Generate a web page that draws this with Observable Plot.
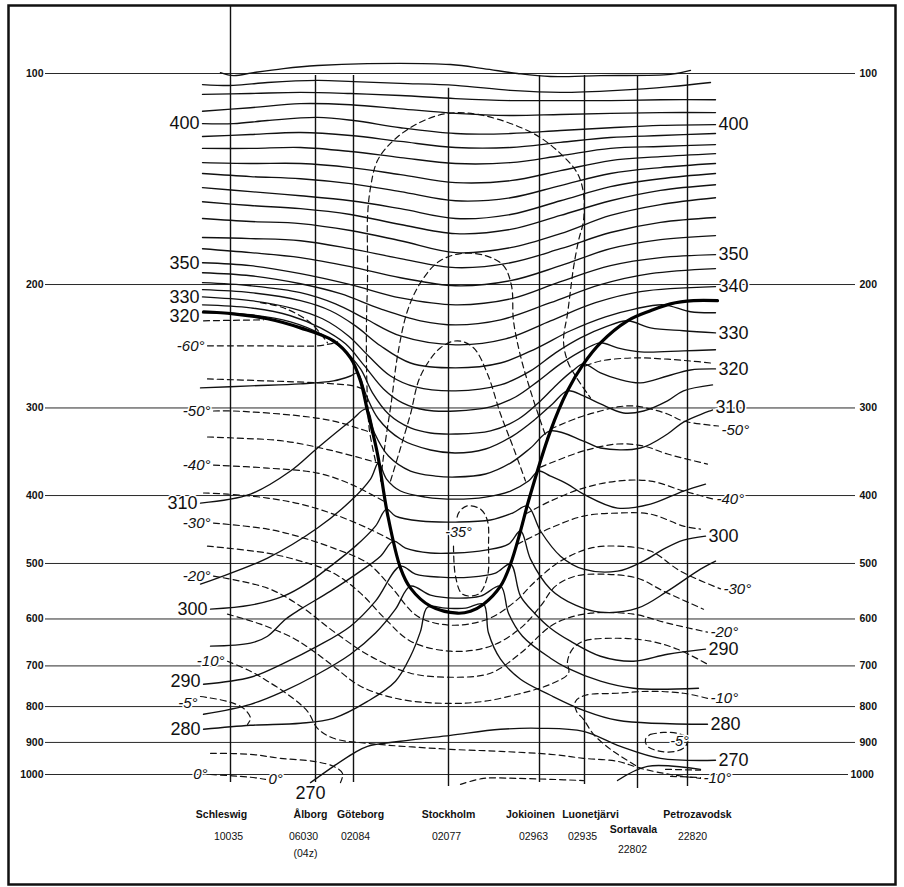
<!DOCTYPE html>
<html><head><meta charset="utf-8">
<script src="https://cdn.jsdelivr.net/npm/d3@7"></script>
<script src="https://cdn.jsdelivr.net/npm/@observablehq/plot@0.6"></script>
<style>body{margin:0;background:#fff} svg{display:block}</style>
</head><body><div id="chart"></div>
<script>
// x: distance along the section (arbitrary units), y: pressure (hPa)
const pressureLevels = [100,200,300,400,500,600,700,800,900,1000];

const stations = [
  {name:"Schleswig", code:"10035", x:23.0, top:80, bottom:1027, nameX:22.1, codeX:22.8},
  {name:"Ålborg", code:"06030", extra:"(04z)", x:31.5, top:100.7, bottom:1027, nameX:31.0, codeX:30.3},
  {name:"Göteborg", code:"02084", x:35.3, top:100.7, bottom:1027, nameX:36.0, codeX:35.5},
  {name:"Stockholm", code:"02077", x:44.8, top:105.0, bottom:1040, nameX:44.8, codeX:44.6},
  {name:"Jokioinen", code:"02963", x:53.9, top:100.7, bottom:1027, nameX:53.0, codeX:53.3},
  {name:"Luonetjärvi", code:"02935", x:58.4, top:100.7, bottom:1033, nameX:59.0, codeX:58.2},
  {name:"Sortavala", code:"22802", x:63.7, top:100.7, bottom:1047, nameX:63.3, codeX:63.2, low:true},
  {name:"Petrozavodsk", code:"22820", x:68.7, top:100.7, bottom:1040, nameX:69.7, codeX:69.2}
];

const tropopause = [[20.3,218.7],[23.3,220.2],[26.7,223.8],[30.0,230.6],[33.3,240.6],[35.0,254.5],[36.0,274.5],[36.7,303.0],[37.7,349.0],[38.7,425.1],[40.0,507.7],[41.0,542.2],[43.0,575.3],[45.7,588.7],[47.0,584.8],[48.3,571.5],[50.0,538.6],[51.0,501.1],[52.0,449.4],[52.8,407.3],[55.0,323.5],[56.7,283.6],[58.3,259.6],[60.0,242.2],[62.7,225.3],[65.0,218.0],[67.0,213.1],[69.3,210.9],[71.7,210.9]];

// isentropes (K), solid lines
const isentropesStrat = [
  {theta:420, pts:[[22.0,99.7],[23.3,100.7],[25.3,99.7],[28.3,98.4],[31.7,97.4],[36.7,96.8],[45.0,97.1],[48.3,98.4],[51.7,100],[55.0,101.0],[60.0,100.7],[67.0,100.3],[69.0,99.0]]},
  {theta:415, pts:[[20.2,103.7],[23.3,104.0],[26.7,103.0],[31.7,102.3],[35.3,102.7],[40.0,103.3],[45.5,104.0],[51.0,105.7],[56.0,106.4],[61.7,105.7],[67.0,104.4],[71.0,103.0]]},
  {theta:410, pts:[[20.2,107.1],[25.0,106.8],[30.0,106.4],[35.0,106.8],[40.0,107.5],[45.5,108.6],[51.0,109.3],[56.0,109.3],[61.0,109.3],[66.0,109.0],[71.5,109.0]]},
  {theta:405, pts:[[20.2,113.2],[25.0,111.9],[30.0,110.4],[35.0,110.8],[40.0,112.3],[45.5,114.0],[51.0,114.8],[56.0,114.4],[61.0,114.0],[66.0,113.7],[71.5,113.7]]},
  {theta:400, pts:[[20.2,117.9],[23.3,117.9],[26.7,116.7],[31.7,115.5],[35.3,116.7],[40.0,119.5],[45.5,121.8],[51.0,121.8],[56.0,120.6],[61.0,119.5],[66.0,118.6],[71.5,118.3]]},
  {theta:395, pts:[[20.2,123.0],[25.0,122.2],[30.0,121.4],[35.0,122.6],[40.0,125.0],[45.5,127.5],[51.0,127.5],[56.0,125.4],[61.0,123.4],[66.0,122.6],[71.5,121.8]]},
  {theta:390, pts:[[20.2,127.9],[25.0,127.9],[30.0,127.5],[35.0,129.2],[40.0,131.8],[45.5,134.4],[51.0,134.0],[56.0,131.0],[61.0,127.9],[66.0,127.1],[71.5,126.3]]},
  {theta:385, pts:[[20.2,134.0],[25.0,134.4],[30.0,134.4],[35.0,136.2],[40.0,139.4],[45.5,143.1],[51.0,142.2],[56.0,137.6],[61.0,133.1],[66.0,131.4],[71.5,130.1]]},
  {theta:380, pts:[[20.2,138.9],[25.0,140.3],[30.0,141.3],[35.0,143.6],[40.0,147.4],[45.5,151.9],[51.0,150.4],[56.0,144.5],[61.0,138.9],[66.0,136.2],[71.5,134.4]]},
  {theta:375, pts:[[20.2,145.5],[25.0,147.4],[30.0,149.4],[35.0,151.9],[40.0,155.9],[45.5,161.0],[51.0,158.9],[56.0,151.9],[61.0,145.0],[66.0,141.3],[71.5,138.9]]},
  {theta:370, pts:[[20.2,152.4],[25.0,154.3],[30.0,155.9],[35.0,158.9],[40.0,164.2],[45.5,169.2],[51.0,166.9],[56.0,159.4],[61.0,151.9],[66.0,146.8],[71.5,144.1]]},
  {theta:365, pts:[[20.2,161.0],[25.0,162.6],[30.0,163.7],[35.0,167.5],[40.0,173.2],[45.5,180.1],[51.0,177.2],[56.0,169.2],[61.0,159.4],[66.0,153.8],[71.5,150.4]]},
  {theta:360, pts:[[20.2,171.4],[25.0,172.0],[30.0,173.2],[35.0,177.8],[40.0,183.7],[45.5,189.2],[51.0,186.2],[56.0,177.8],[61.0,168.6],[66.0,163.1],[71.5,160.5]]},
  {theta:355, pts:[[20.2,177.8],[25.0,180.1],[30.0,183.1],[35.0,188.6],[40.0,195.6],[45.5,200.8],[51.0,197.5],[56.0,188.0],[61.0,177.8],[66.0,172.6],[71.5,170.3]]},
  {theta:350, pts:[[20.2,186.2],[25.0,188.0],[30.0,193.0],[35.0,200.1],[40.0,209.0],[45.5,213.8],[51.0,209.7],[56.0,198.1],[61.0,188.0],[66.0,183.1],[71.5,181.3]]},
  {theta:345, pts:[[20.2,192.4],[25.0,194.3],[30.0,199.5],[34.0,206.1],[38.0,216.6],[42.0,225.3],[45.5,228.4],[50.0,224.6],[55.0,212.3],[60.0,200.1],[65.0,193.0],[71.5,189.8]]},
  {theta:340, pts:[[20.2,198.8],[25.0,200.8],[30.0,205.4],[33.5,213.1],[36.5,223.8],[40.0,236.8],[45.5,243.8],[50.5,239.1],[55.0,225.3],[59.5,212.3],[64.0,204.7],[71.5,201.4]]}
];

const isentropesFunnel = [
  {theta:335, pts:[[20.2,203.4],[25.0,205.4],[30.0,210.9],[33.0,218.0],[35.5,229.1],[38.0,244.6],[41.0,258.8],[45.5,263.0],[50.0,258.8],[53.5,247.0],[57.0,232.8],[60.5,222.4],[63.5,216.6],[66.3,213.8],[69.0,218.7],[71.5,219.4]]},
  {theta:330, pts:[[20.2,208.3],[25.0,210.9],[29.0,215.9],[32.2,223.8],[34.8,236.8],[36.8,252.9],[39.0,270.1],[41.5,280.0],[45.5,283.6],[50.0,278.1],[53.0,265.6],[55.5,250.3],[58.0,238.3],[60.5,229.9],[62.7,225.3],[65.0,230.6],[68.3,232.8],[71.5,234.4]]},
  {theta:325, pts:[[20.2,213.8],[25.0,215.9],[29.0,221.6],[32.0,230.6],[34.5,243.0],[36.4,261.3],[38.3,281.8],[40.2,295.0],[42.5,302.0],[45.5,303.0],[49.0,299.0],[51.5,289.4],[53.8,274.5],[56.0,259.6],[58.5,247.0],[60.0,242.2],[61.7,246.2],[64.0,249.5],[68.3,248.7],[71.5,247.8]]},
  {theta:320, pts:[[20.2,219.4],[25.0,220.9],[29.0,226.1],[32.0,235.2],[34.2,247.0],[36.0,263.9],[37.2,285.5],[38.8,306.0],[41.0,320.4],[43.0,325.7],[45.5,326.8],[49.0,323.5],[51.8,311.1],[54.0,293.1],[55.8,276.3],[57.2,265.6],[58.3,259.6],[60.0,267.4],[61.7,272.7],[64.0,276.3],[66.7,270.1],[69.0,264.8],[71.5,263.9]]},
  {theta:315, pts:[[20.0,280.9],[25.0,279.0],[30.0,277.2],[33.3,274.5],[35.0,270.1],[35.7,267.4],[36.6,288.4],[37.8,311.1],[40.0,332.2],[43.0,344.4],[45.5,347.8],[48.5,343.3],[51.2,329.0],[53.5,311.1],[55.2,296.1],[56.7,283.6],[58.3,288.4],[60.0,296.1],[62.3,305.0],[64.3,303.0],[66.7,293.1],[68.3,283.6],[71.2,278.1]]},
  {theta:310, pts:[[20.0,410.0],[25.0,398.1],[29.0,369.1],[31.7,342.2],[35.0,313.2],[36.6,301.0],[37.4,325.7],[38.8,351.3],[41.0,369.1],[43.5,375.2],[45.5,376.4],[48.5,372.7],[51.0,359.5],[53.0,342.2],[55.0,323.5],[58.3,334.4],[60.0,342.2],[64.0,342.2],[66.7,326.8],[68.3,314.2],[71.2,302.0]]},
  {theta:305, pts:[[20.0,535.1],[21.7,524.7],[26.7,491.3],[31.7,445.1],[35.0,407.3],[37.0,378.9],[37.8,359.5],[38.6,378.9],[40.0,394.1],[42.5,402.0],[45.5,404.7],[48.5,402.0],[51.0,394.1],[52.8,381.4],[53.8,369.1],[55.0,375.2],[56.7,385.2],[58.3,398.1],[61.7,416.8],[65.0,411.4],[68.3,394.1],[70.5,385.2]]},
  {theta:300, pts:[[21.0,581.0],[25.0,573.4],[28.3,556.7],[30.7,533.4],[33.0,504.4],[35.5,472.3],[37.5,442.2],[38.6,418.2],[39.5,427.9],[42.0,434.9],[45.5,436.4],[49.0,433.5],[51.2,423.7],[52.7,414.1],[54.0,449.4],[56.0,488.1],[58.3,509.4],[61.7,512.8],[64.3,496.1],[66.3,477.0],[68.3,463.1],[70.5,457.0]]},
  {theta:295, pts:[[21.0,656.1],[25.0,649.6],[26.7,634.9],[28.5,600.4],[30.0,581.0],[33.0,547.6],[36.0,512.8],[38.0,488.1],[39.3,464.6],[40.5,475.4],[43.0,483.1],[45.5,483.1],[48.5,478.5],[50.8,469.2],[52.0,449.4],[53.0,492.9],[55.0,544.0],[57.5,573.4],[60.0,586.8],[63.7,579.1],[66.7,547.6],[70.0,509.4],[71.5,496.1]]},
  {theta:290, pts:[[20.3,743.4],[25.0,726.5],[28.3,694.0],[31.7,656.1],[35.0,614.4],[37.5,565.9],[40.0,504.4],[41.5,517.8],[44.0,523.0],[47.0,523.0],[49.5,516.1],[51.0,501.1],[52.0,556.7],[53.5,590.6],[55.0,618.4],[57.0,645.4],[60.0,678.1],[63.3,689.4],[66.7,673.6],[70.5,662.5]]},
  {theta:285, pts:[[20.3,820.5],[25.0,794.0],[28.3,760.8],[31.7,719.4],[35.0,673.6],[37.5,628.4],[39.5,581.0],[41.0,538.6],[43.0,554.8],[45.5,560.3],[48.0,556.7],[50.0,538.6],[50.8,588.7],[52.2,634.9],[55.0,682.5],[56.7,705.3],[60.0,736.0],[63.3,753.3],[69.8,753.3]]},
  {theta:280, pts:[[20.3,862.0],[25.0,850.7],[30.0,845.1],[33.3,831.4],[36.7,786.6],[39.5,736.0],[41.0,678.1],[42.0,624.9],[42.7,577.2],[44.5,579.1],[46.5,579.1],[48.3,571.5],[48.8,628.4],[50.0,684.8],[52.0,731.4],[55.0,770.8],[58.3,809.9],[61.7,836.8],[70.7,847.9]]}
];

const isentropesLow = [
  {theta:270, pts:[[31.0,1027],[33.3,973.5],[35.3,932.8],[36.7,911.6],[40.0,896.6],[45.0,879.2],[50.0,862.0],[54.0,859.2],[58.3,867.9],[62.0,911.6],[66.0,948.2],[71.5,954.4]]},
  {theta:265, pts:[[61.7,1020],[64.7,973.5],[70.0,983.1]]}
];

const thetaLabelsLeft = [400,350,330,320,310,300,290,280];
const thetaLabelsRight = [400,350,340,330,320,310,300,290,280,270];

// isotherms (°C), dashed lines; label: which end carries the label
const isotherms = [
  {t:-65, pts:[[20.3,225.3],[26.3,224.6]]},
  {t:-65, pts:[[26.0,212.3],[28.3,215.9],[31.0,226.8],[32.7,242.2]]},
  {t:-60, label:"start", pts:[[20.7,244.6],[26.0,244.6],[31.7,244.6],[33.0,243.0],[33.7,241.4]]},
  {t:-55, pts:[[20.7,272.7],[26.7,274.5],[31.7,276.3],[35.3,279.0],[36.2,281.8]]},
  {t:-55, pts:[[58.5,261.3],[60.0,257.1],[63.3,254.5],[66.3,255.4],[69.0,257.1],[71.0,258.8]]},
  {t:-50, label:"start", pts:[[21.3,303.0],[23.3,303.0],[30.0,308.0],[33.3,313.2],[36.0,321.5],[37.2,325.7]]},
  {t:-50, label:"end", pts:[[55.0,321.5],[57.7,310.0],[60.0,303.0],[61.7,299.0],[63.3,298.0],[65.0,301.0],[66.7,306.0],[68.3,313.2],[71.8,318.3]]},
  {t:-45, pts:[[20.7,330.0],[23.3,331.1],[28.3,334.4],[33.3,345.5],[37.8,359.5]]},
  {t:-45, pts:[[54.0,364.3],[55.0,359.5],[58.3,345.5],[61.7,337.7],[64.3,339.9],[66.7,349.0],[70.7,360.7]]},
  {t:-40, label:"start", pts:[[21.3,361.9],[26.7,365.5],[31.7,371.5],[35.0,385.2],[38.3,407.3]]},
  {t:-40, label:"end", pts:[[52.5,425.1],[55.0,407.3],[58.3,390.3],[61.7,381.4],[65.0,381.4],[68.3,394.1],[71.3,404.7]]},
  {t:-35, pts:[[20.3,396.7],[22.7,398.1],[26.7,403.3],[30.0,411.4],[33.3,425.1],[36.7,445.1],[39.3,464.6]]},
  {t:-35, pts:[[51.7,469.2],[55.0,445.1],[58.3,427.9],[61.7,423.7],[65.0,425.1],[68.3,442.2],[70.0,446.6]]},
  {t:-30, label:"both", pts:[[21.3,437.8],[26.7,446.6],[30.0,458.5],[33.3,475.4],[36.7,499.4],[39.0,538.6],[41.7,594.5],[45.0,612.3],[48.7,600.4],[51.5,565.9],[53.5,529.9],[56.0,496.1],[59.0,475.4],[61.7,472.3],[65.0,480.0],[68.0,512.8],[72.0,543.5]]},
  {t:-25, pts:[[20.7,472.3],[26.7,483.3],[30.0,496.1],[33.3,516.1],[36.0,551.2],[38.5,600.4],[41.0,645.4],[45.0,667.0],[49.0,656.1],[52.0,618.4],[54.0,575.3],[55.5,538.6],[57.5,521.2],[60.0,517.8],[63.7,524.7],[66.3,547.6],[70.3,581.0]]},
  {t:-20, label:"both", pts:[[21.3,521.2],[26.7,542.2],[30.0,575.3],[33.3,624.9],[37.0,678.1],[41.0,717.0],[45.0,726.5],[49.0,717.0],[52.0,671.4],[55.0,614.4],[56.7,598.5],[59.0,588.7],[63.3,590.6],[66.7,608.3],[70.7,626.5]]},
  {t:-15, pts:[[22.7,590.6],[26.0,610.3],[29.3,639.2],[31.3,667.0],[33.3,700.7],[36.0,748.3],[40.0,781.2],[45.0,791.8],[48.3,786.6],[51.7,768.3],[55.0,743.4],[56.8,717.0],[56.7,689.4],[57.2,662.6],[58.3,645.4],[61.7,639.2],[65.0,645.4],[67.7,662.6],[70.7,696.1]]},
  {t:-10, label:"both", pts:[[22.7,689.4],[25.0,712.3],[26.7,736.0],[28.7,768.3],[30.7,812.6],[31.7,859.2],[33.3,887.9],[36.7,902.6],[45.0,920.6],[50.0,926.7],[55.0,935.8],[58.3,948.2],[61.7,957.6],[64.0,979.9],[67.0,1000],[70.0,1013]]},
  {t:-10, label:"start", pts:[[70.7,778.6],[68.3,765.8],[65.0,760.8],[61.7,765.8],[58.5,770.8],[57.5,786.6],[57.6,812.6],[58.3,834.1],[59.3,876.3],[61.0,920.6],[62.5,951.3],[64.0,979.9]]},
  {t:-10, pts:[[66.5,983.0],[70.0,986.0]]},
  {t:-10, pts:[[67.0,1006],[70.0,1010]]},
  {t:-5, label:"start", pts:[[20.0,774.0],[22.7,786.6],[24.3,804.6],[25.0,831.4],[24.7,847.9]]},
  {t:-5, pts:[[65.0,876.3],[66.3,870.8],[67.7,873.6],[68.7,887.9],[68.5,911.6],[67.5,926.7],[66.0,926.7],[64.7,911.6],[64.5,890.8],[65.0,876.3]]},
  {t:0, label:"both", pts:[[21.0,1000],[25.0,1009],[26.5,1016]]},
  {t:-2, pts:[[21.0,932.8],[25.0,935.8],[28.0,948.2],[31.3,957.6],[33.3,973.5],[34.2,996.2],[34.0,1027]]},
  {t:-2, pts:[[46.0,1033],[48.3,1013],[51.7,1013],[55.0,1016],[58.3,1020]]},
  // stratospheric isotherms inside / above the funnel
  {t:-45, pts:[[37.5,357.1],[36.9,323.5],[36.7,293.1],[36.6,259.6],[36.6,225.3],[36.7,197.5],[36.7,180.7],[36.7,160.5],[37.0,145.5],[37.7,133.1],[39.3,124.6],[41.7,117.9],[44.7,114.0],[48.3,114.8],[53.3,121.8],[56.0,130.1],[57.7,138.9],[58.3,148.4],[58.3,162.1],[57.8,173.2],[57.3,189.2],[57.0,204.0],[56.7,220.2],[56.3,240.6],[56.7,257.1],[57.5,270.1],[59.0,290.3]]},
  {t:-40, pts:[[38.0,381.4],[38.5,334.4],[39.1,293.1],[39.7,252.9],[40.7,218.0],[42.0,198.8],[43.8,185.6],[46.0,180.7],[48.5,181.9],[50.3,188.0],[51.1,200.8],[51.3,225.3],[52.0,252.9],[53.0,283.6],[54.0,313.2],[54.7,334.4]]},
  {t:-35, pts:[[39.0,381.4],[40.0,342.2],[41.0,306.0],[42.0,270.1],[44.0,246.2],[45.7,240.6],[47.3,246.2],[48.7,268.3],[50.0,306.0],[51.3,342.2],[52.5,381.4]]},
  {t:-35, pts:[[45.3,472.3],[45.5,521.2],[46.2,553.0],[47.8,553.0],[48.7,521.2],[48.8,472.3],[48.7,434.9],[48.0,418.2],[46.6,414.1],[45.8,423.7],[45.6,434.9]]}
];

const freeLabels = [
  {text:"-35°", x:45.8, p:451},
  {text:"-5°", x:67.9, p:896}
];

// small vertical nudges (px) for crowded labels
const labelNudge = {"L320": 4, "L290": -3, "L-5°": 7, "R310": -3, "R-50°": 4};

// ---------- build
const toRows = (groups, key) => groups.flatMap((g, i) => g.pts.map(([x, p]) => ({id: key + i, x, p})));
const solidRows = toRows([...isentropesStrat, ...isentropesFunnel, ...isentropesLow], "s");
const dashRows = toRows(isotherms, "d");
const tropRows = tropopause.map(([x, p]) => ({x, p}));

const allTheta = [...isentropesStrat, ...isentropesFunnel, ...isentropesLow];
const first = d => d.pts[0], last = d => d.pts[d.pts.length - 1];
const lblLeft = allTheta.filter(d => thetaLabelsLeft.includes(d.theta)).map(d => ({text: String(d.theta), side: "L", x: first(d)[0], p: first(d)[1]}));
const lblRight = allTheta.filter(d => thetaLabelsRight.includes(d.theta)).map(d => ({text: String(d.theta), side: "R", x: last(d)[0], p: last(d)[1]}));
const lbl270 = allTheta.filter(d => d.theta === 270).map(d => ({text: "270", side: "B", x: first(d)[0], p: first(d)[1]}));
const tStr = t => `${t}°`;
const isoStart = isotherms.filter(d => d.label === "start" || d.label === "both").map(d => ({text: tStr(d.t), x: first(d)[0], p: first(d)[1]}));
const isoEnd = isotherms.filter(d => d.label === "end" || d.label === "both").map(d => ({text: tStr(d.t), side: "R", x: last(d)[0], p: last(d)[1]}));
const isoStartL = isoStart.filter(d => d.x < 40).map(d => ({...d, side: "L"}));
const isoStartR = isoStart.filter(d => d.x >= 40).map(d => ({...d, side: "R"}));

const INK = "#111";
const FONT = "Liberation Sans, Arial, sans-serif";
const halo = {stroke: "white", strokeWidth: 3};

// one text mark per nudge value, so each label keeps its own offset
function labelMarks(data, opts, baseDy = 0) {
  const groups = d3.group(data, d => labelNudge[d.side + d.text] || 0);
  return Array.from(groups, ([n, rows]) => Plot.text(rows, {x: "x", y: "p", text: "text", ...opts, dy: baseDy + n}));
}

const chart = Plot.plot({
  width: 904, height: 887,
  marginTop: 0, marginRight: 0, marginBottom: 0, marginLeft: 0,
  style: {background: "white", fontFamily: FONT, color: INK},
  x: {domain: [0, 90.4], range: [0, 904], axis: null},
  y: {type: "log", domain: [100, 1000], range: [73, 774], axis: null},
  marks: [
    Plot.frame({insetLeft: 8, insetTop: 5, insetRight: 9, insetBottom: 3, stroke: INK, strokeWidth: 2.5}),
    // pressure levels
    Plot.ruleY(pressureLevels, {y: d => d, x1: 4.5, x2: d => d === 1000 ? 84.8 : 85.5, stroke: INK, strokeWidth: 0.9}),
    Plot.text(pressureLevels, {x: 4.3, y: d => d, text: d => String(d), textAnchor: "end", fontSize: 10.5, fontWeight: "bold", fill: INK}),
    Plot.text(pressureLevels, {x: d => d === 1000 ? 85.0 : 85.9, y: d => d, text: d => String(d), textAnchor: "start", fontSize: 10.5, fontWeight: "bold", fill: INK}),
    // stations
    Plot.ruleX(stations, {x: "x", y1: "top", y2: "bottom", stroke: INK, strokeWidth: 1.4}),
    Plot.text(stations.filter(d => !d.low), {x: "nameX", y: () => 1000, text: "name", fontSize: 10.5, fontWeight: "bold", fill: INK, dy: 40}),
    Plot.text(stations.filter(d => !d.low), {x: "codeX", y: () => 1000, text: "code", fontSize: 10.5, fill: INK, dy: 62}),
    Plot.text(stations.filter(d => d.low), {x: "nameX", y: () => 1000, text: "name", fontSize: 10.5, fontWeight: "bold", fill: INK, dy: 55}),
    Plot.text(stations.filter(d => d.low), {x: "codeX", y: () => 1000, text: "code", fontSize: 10.5, fill: INK, dy: 75}),
    Plot.text(stations.filter(d => d.extra), {x: "codeX", y: () => 1000, text: "extra", fontSize: 10.5, fill: INK, dx: 2, dy: 79}),
    // isotherms
    Plot.line(dashRows, {x: "x", y: "p", z: "id", curve: "catmull-rom", stroke: INK, strokeWidth: 1.2, strokeDasharray: "6,4"}),
    // isentropes
    Plot.line(solidRows, {x: "x", y: "p", z: "id", curve: "catmull-rom", stroke: INK, strokeWidth: 1.35}),
    // tropopause
    Plot.line(tropRows, {x: "x", y: "p", curve: "catmull-rom", stroke: "#000", strokeWidth: 3.2}),
    // labels
    ...labelMarks(lblLeft, {textAnchor: "end", dx: -3, fontSize: 18, fill: INK, ...halo}),
    ...labelMarks(lblRight, {textAnchor: "start", dx: 3, fontSize: 18, fill: INK, ...halo}),
    ...labelMarks(lbl270, {textAnchor: "middle", fontSize: 18, fill: INK, ...halo}, 11),
    ...labelMarks(isoStartL, {textAnchor: "end", dx: -3, fontSize: 15, fontStyle: "italic", fill: INK, ...halo}),
    ...labelMarks(isoStartR, {textAnchor: "start", dx: 3, fontSize: 15, fontStyle: "italic", fill: INK, ...halo}),
    ...labelMarks(isoEnd, {textAnchor: "start", dx: 3, fontSize: 15, fontStyle: "italic", fill: INK, ...halo}),
    Plot.text(freeLabels, {x: "x", y: "p", text: "text", textAnchor: "middle", fontSize: 14.5, fontStyle: "italic", fill: INK, ...halo})
  ]
});
document.getElementById("chart").appendChild(chart);
</script>
</body></html>
